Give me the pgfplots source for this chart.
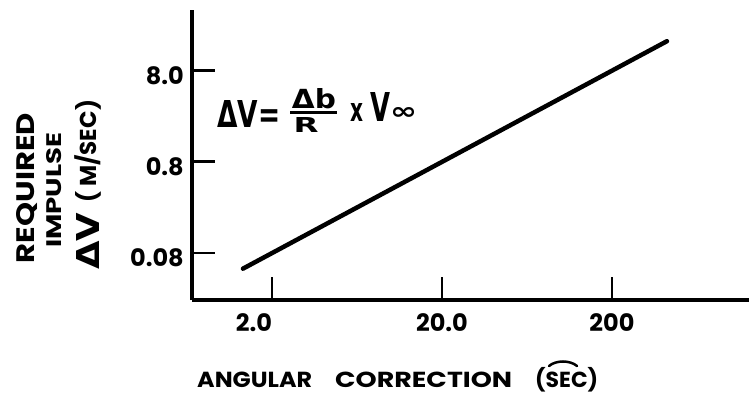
\documentclass[border=0pt]{standalone}
\usepackage{fontspec}
\setmainfont{Poppins}
\newfontfamily\symf{DejaVu Sans}
\usepackage{graphicx}
\usepackage{pgfplots}
\pgfplotsset{compat=1.18}
% bold lettering used for the tick numbers
\newcommand{\tf}{\fontsize{24}{25}\selectfont\bfseries}

\begin{document}
\begin{tikzpicture}
\useasboundingbox (-192pt,-99pt) rectangle (557pt,300pt);
\begin{axis}[
  at={(0pt,0pt)}, anchor=south west,
  scale only axis, width=557pt, height=290pt,
  xmode=log, ymode=log,
  xmin=0.677, xmax=1279, ymin=0.02449, ymax=36.9,
  axis x line=bottom, axis y line=left,
  axis line style={-, line width=3.5pt},
  xtick={2,20,200}, xticklabels={{2.0\hspace*{36pt}},20.0,200},
  ytick={0.08,0.8,8}, yticklabels={0.08,0.8,8.0},
  xminorticks=false, yminorticks=false,
  tick align=inside, major tick length=23pt,
  tick style={line width=2.8pt, black},
  x tick label style={font=\tf, inner sep=0pt, anchor=north, yshift=-13pt},
  y tick label style={font=\tf, inner sep=0pt, anchor=east, xshift=-8pt, yshift=-5pt},
  clip=false,
]
% required impulse against angular correction
\addplot[line width=4.5pt, line cap=round, black] coordinates {(1.35,0.054) (421,16.8)};
\end{axis}

% vertical axis title
\node[rotate=90, anchor=base, inner sep=0pt] at (-157pt,112pt) {\bfseries\resizebox{150pt}{18pt}{REQUIRED}};
\node[rotate=90, anchor=base, inner sep=0pt] at (-130pt,109.5pt) {\bfseries\resizebox{115pt}{15pt}{IMPULSE}};
\node[rotate=90, anchor=base west, inner sep=0pt] at (-92pt,30pt) {\symf\bfseries\resizebox{57pt}{23pt}{ΔV}};
\node[rotate=90, anchor=base west, inner sep=0pt] at (-95pt,97pt) {\fontsize{23}{24}\selectfont\bfseries\mbox{(}\hspace{5pt}\mbox{M}\mbox{/}\mbox{SEC}\hspace{1pt}\mbox{)}};

% horizontal axis title
\node[anchor=base west, inner sep=0pt] at (5pt,-87pt) {\bfseries\resizebox{115pt}{15.5pt}{ANGULAR}};
\node[anchor=base west, inner sep=0pt] at (143pt,-87pt) {\bfseries\resizebox{177pt}{15.5pt}{CORRECTION}};
\node[anchor=base west, inner sep=0pt] at (343pt,-87pt) {\fontsize{22}{23}\selectfont\bfseries\mbox{(}\resizebox{42pt}{15.5pt}{SEC}\mbox{)}};
\draw[line width=2.5pt, line cap=round] (357pt,-66pt) .. controls (364pt,-60pt) and (378pt,-60pt) .. (385pt,-66pt);

% formula
\node[anchor=base west, inner sep=0pt] at (25pt,172pt) {\symf\bfseries\resizebox{63pt}{27pt}{ΔV=}};
\node[anchor=base, inner sep=0pt] at (122pt,191pt) {\symf\bfseries\resizebox{44pt}{20pt}{Δb}};
\draw[line width=3.5pt] (98pt,187.5pt) -- (145pt,187.5pt);
\node[anchor=base, inner sep=0pt] at (114pt,167pt) {\symf\bfseries\resizebox{25pt}{15pt}{R}};
\node[anchor=base, inner sep=0pt] at (164.5pt,178pt) {\symf\bfseries\resizebox{13pt}{18pt}{x}};
\node[anchor=base west, inner sep=0pt] at (178pt,178pt) {\symf\bfseries\resizebox{20pt}{29pt}{V}};
\node[anchor=center, inner sep=0pt] at (211.5pt,186pt) {\symf\bfseries\resizebox{27pt}{12pt}{∞}};
\end{tikzpicture}
\end{document}
